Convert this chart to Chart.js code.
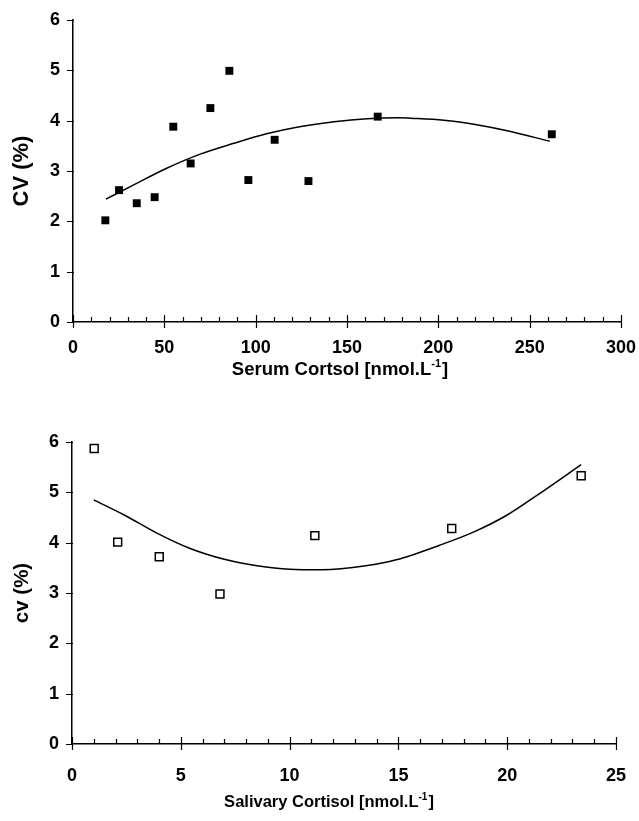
<!DOCTYPE html>
<html>
<head>
<meta charset="utf-8">
<script src="https://cdn.jsdelivr.net/npm/chart.js@4.4.0/dist/chart.umd.min.js"></script>
<style>
  html, body { margin: 0; padding: 0; background: #fff; }
  canvas { display: block; }
</style>
</head>
<body>
<canvas id="serumChart" width="639" height="390"></canvas>
<canvas id="salivaChart" width="639" height="431"></canvas>
<script>
// serum cortisol vs CV (filled squares + fitted curve)
const serumX = [17.7, 25.2, 34.9, 44.7, 54.9, 64.4, 75.2, 85.6, 96.0, 110.4, 128.9, 166.8, 262.1];
const serumCV = [2.02, 2.62, 2.36, 2.48, 3.88, 3.15, 4.25, 4.99, 2.82, 3.62, 2.80, 4.08, 3.73];
const serumFitX = [18, 33, 51, 70, 88, 106, 124, 143, 161, 178, 185, 203, 221, 239, 261];
const serumFitCV = [2.44, 2.72, 3.05, 3.34, 3.55, 3.74, 3.88, 3.98, 4.04, 4.06, 4.05, 4.01, 3.92, 3.79, 3.59];
const serumTicksX = [0, 50, 100, 150, 200, 250, 300];

// salivary cortisol vs CV (open squares + fitted curve)
const salivaX = [1.02, 2.10, 4.01, 6.80, 11.16, 17.45, 23.40];
const salivaCV = [5.87, 4.01, 3.72, 2.98, 4.14, 4.28, 5.33];
const salivaFitX = [1.0, 2.4, 3.9, 5.4, 7.0, 8.5, 10.0, 11.5, 13.5, 14.9, 16.9, 18.5, 20.0, 21.5, 23.4];
const salivaFitCV = [4.85, 4.55, 4.19, 3.89, 3.67, 3.54, 3.47, 3.46, 3.54, 3.66, 3.95, 4.22, 4.55, 4.98, 5.55];
const salivaTicksX = [0, 5, 10, 15, 20, 25];

const cvTicks = [0, 1, 2, 3, 4, 5, 6];

const FONT = "'Liberation Sans', Arial, sans-serif";

const toPoints = (xs, ys) => xs.map((x, i) => ({ x, y: ys[i] }));

// ticks crossing the axes, minor ticks pointing inward
const axisTicks = {
  id: 'axisTicks',
  afterDraw(chart, args, opts) {
    const { ctx, chartArea, scales: { x, y } } = chart;
    ctx.save();
    ctx.strokeStyle = '#000';
    ctx.lineWidth = 1.2;
    ctx.beginPath();
    for (let v = x.min; v <= x.max + 1e-9; v += opts.minor) {
      const px = Math.round(x.getPixelForValue(v)) + 0.5;
      const major = Math.abs(v / opts.major - Math.round(v / opts.major)) < 1e-6;
      ctx.moveTo(px, chartArea.bottom - (major ? 7 : 5));
      ctx.lineTo(px, chartArea.bottom + (major ? 6 : 0));
    }
    y.ticks.forEach(t => {
      const py = Math.round(y.getPixelForValue(t.value)) + 0.5;
      ctx.moveTo(chartArea.left - 6, py);
      ctx.lineTo(chartArea.left + 1, py);
    });
    ctx.stroke();
    ctx.restore();
  }
};

// x axis title with a real superscript (-1)
const unitTitle = {
  id: 'unitTitle',
  afterDraw(chart, args, o) {
    const { ctx, chartArea } = chart;
    const big = `bold ${o.size}px ${FONT}`;
    const small = `bold ${Math.round(o.size * 0.62)}px ${FONT}`;
    ctx.save();
    ctx.fillStyle = '#000';
    ctx.textBaseline = 'alphabetic';
    ctx.font = big;
    const w1 = ctx.measureText(o.text).width;
    const w3 = ctx.measureText(o.tail).width;
    ctx.font = small;
    const w2 = ctx.measureText(o.sup).width + 1;
    let x = (chartArea.left + chartArea.right) / 2 + o.dx - (w1 + w2 + w3) / 2;
    ctx.font = big;
    ctx.fillText(o.text, x, o.y);
    x += w1;
    ctx.font = small;
    ctx.fillText(o.sup, x, o.y - o.size * 0.45);
    x += w2;
    ctx.font = big;
    ctx.fillText(o.tail, x, o.y);
    ctx.restore();
  }
};

function makeChart(id, s) {
  const ctx = document.getElementById(id).getContext('2d');
  return new Chart(ctx, {
    type: 'scatter',
    data: {
      datasets: [{
        data: toPoints(s.xs, s.ys),
        pointStyle: 'rect',
        pointRadius: 5.6,
        pointHoverRadius: 5.6,
        pointBackgroundColor: s.filled ? '#000' : '#fff',
        pointBorderColor: '#000',
        pointBorderWidth: s.filled ? 0 : 1.5
      }, {
        type: 'line',
        data: toPoints(s.fitX, s.fitY),
        borderColor: '#000',
        borderWidth: 1.5,
        pointRadius: 0,
        cubicInterpolationMode: 'monotone',
        fill: false
      }]
    },
    options: {
      responsive: false,
      animation: false,
      events: [],
      layout: { padding: { top: s.top, right: s.right, bottom: 0, left: 0 } },
      plugins: {
        legend: { display: false },
        tooltip: { enabled: false },
        axisTicks: { major: s.major, minor: s.minor },
        unitTitle: s.xTitle
      },
      scales: {
        x: {
          type: 'linear',
          min: s.ticksX[0],
          max: s.ticksX[s.ticksX.length - 1],
          afterBuildTicks: sc => { sc.ticks = s.ticksX.map(v => ({ value: v })); },
          afterFit: sc => { sc.height = s.xHeight; sc.paddingLeft = 0; sc.paddingRight = 0; },
          grid: { display: false, drawTicks: false },
          border: { display: true, color: '#000', width: 1.5 },
          ticks: { color: '#000', padding: s.xPad, font: { family: FONT, size: 18, weight: 'bold' } }
        },
        y: {
          type: 'linear',
          min: 0,
          max: 6,
          afterBuildTicks: sc => { sc.ticks = cvTicks.map(v => ({ value: v })); },
          afterFit: sc => { sc.width = s.yWidth; sc.paddingTop = 0; sc.paddingBottom = 0; },
          grid: { display: false, drawTicks: false },
          border: { display: true, color: '#000', width: 1.5 },
          ticks: { color: '#000', padding: 13, font: { family: FONT, size: 18, weight: 'bold' } },
          title: {
            display: true, text: s.yTitle, color: '#000',
            padding: { top: s.yTitlePad, bottom: 0 },
            font: { family: FONT, size: s.yTitleSize, weight: 'bold' }
          }
        }
      }
    },
    plugins: [axisTicks, unitTitle]
  });
}

makeChart('serumChart', {
  xs: serumX, ys: serumCV, fitX: serumFitX, fitY: serumFitCV, filled: true,
  ticksX: serumTicksX, major: 50, minor: 10,
  xTitle: { text: 'Serum Cortsol [nmol.L', sup: '-1', tail: ']', size: 18.5, dx: -7, y: 375 },
  yTitle: 'CV (%)', yTitleSize: 22, yTitlePad: 9,
  top: 20, right: 18, yWidth: 73, xHeight: 68, xPad: 15
});

makeChart('salivaChart', {
  xs: salivaX, ys: salivaCV, fitX: salivaFitX, fitY: salivaFitCV, filled: false,
  ticksX: salivaTicksX, major: 5, minor: 1,
  xTitle: { text: 'Salivary Cortisol [nmol.L', sup: '-1', tail: ']', size: 16.5, dx: -15, y: 417 },
  yTitle: 'cv (%)', yTitleSize: 20.5, yTitlePad: 10,
  top: 52, right: 23, yWidth: 72, xHeight: 77, xPad: 21
});
</script>
</body>
</html>
